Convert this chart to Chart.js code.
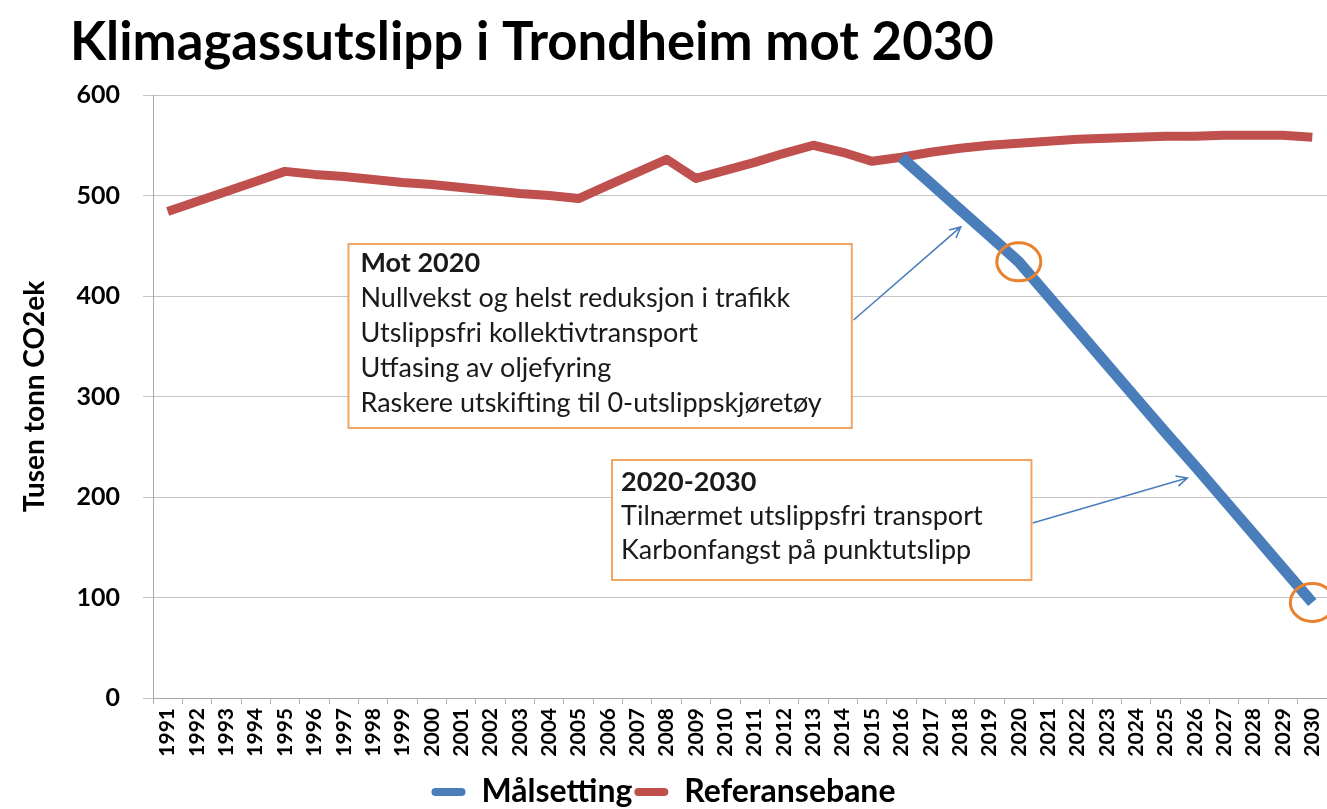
<!DOCTYPE html>
<html>
<head>
<meta charset="utf-8">
<script src="https://cdn.jsdelivr.net/npm/chart.js@4/dist/chart.umd.min.js"></script>
<style>
html, body { margin:0; padding:0; background:#fff; overflow:hidden; }
</style>
</head>
<body>
<canvas id="chart" width="1327" height="818"></canvas>
<script>
// categories
var years = ['1991','1992','1993','1994','1995','1996','1997','1998','1999','2000',
             '2001','2002','2003','2004','2005','2006','2007','2008','2009','2010',
             '2011','2012','2013','2014','2015','2016','2017','2018','2019','2020',
             '2021','2022','2023','2024','2025','2026','2027','2028','2029','2030'];

// Referansebane (tusen tonn CO2ek)
var referansebane = [484,494,504,514,524,521,519,516,513,511,
                     508,505,502,500,497,510,523,536,517,525,
                     533,542,550,543,534,538,543,547,550,552,
                     554,556,557,558,559,559,560,560,560,558];

// Målsetting (starter i 2016)
var malsetting = [null,null,null,null,null,null,null,null,null,null,
                  null,null,null,null,null,null,null,null,null,null,
                  null,null,null,null,null,538,512,486,460,434,
                  400,366,332,298,264,231,197,163,129,95];

var yTicks = [0,100,200,300,400,500,600];
var markedYears = ['2020','2030'];

// tekstbokser: [år venstre, år høyre, verdi topp, verdi bunn]
var box1Lines = ['Mot 2020','Nullvekst og helst reduksjon i trafikk','Utslippsfri kollektivtransport','Utfasing av oljefyring','Raskere utskifting til 0-utslippskjøretøy'];
var box1Pos = [1997.16, 2014.31, 451.7, 268.7];
var box2Lines = ['2020-2030','Tilnærmet utslippsfri transport','Karbonfangst på punktutslipp'];
var box2Pos = [2006.14, 2020.43, 236.8, 117.4];
// piler: [år fra, verdi fra, år til, verdi til]
var arrow1 = [2014.37, 376.1, 2018.02, 468.7];
var arrow2 = [2020.47, 174.1, 2025.74, 218.9];

var blue = '#4A7EBB';
var red = '#C0504D';
var orange = '#E8822F';
var FONT = 'Lato, "Open Sans", sans-serif';

function xAt(chart, year){
	var x = chart.scales.x;
	var step = x.getPixelForValue(1) - x.getPixelForValue(0);
	return x.getPixelForValue(0) + (year - 1991) * step;
}
function yAt(chart, v){
	return chart.scales.y.getPixelForValue(v);
}

function drawBox(chart, pos, lines, firstOff, lineGap, padX){
	var ctx = chart.ctx;
	var l = xAt(chart, pos[0]), r = xAt(chart, pos[1]);
	var t = yAt(chart, pos[2]), b = yAt(chart, pos[3]);
	ctx.save();
	ctx.fillStyle = '#fff';
	ctx.fillRect(l, t, r - l, b - t);
	ctx.strokeStyle = '#F2A463';
	ctx.lineWidth = 2;
	ctx.strokeRect(l, t, r - l, b - t);
	ctx.fillStyle = '#1a1a1a';
	ctx.textBaseline = 'middle';
	ctx.textAlign = 'left';
	for(var i in lines){
		ctx.font = (i == 0 ? 'bold ' : '') + '27px ' + FONT;
		ctx.fillText(lines[i], l + padX, t + firstOff + i * lineGap);
	}
	ctx.restore();
}

function drawArrow(chart, a){
	var ctx = chart.ctx;
	var x0 = xAt(chart, a[0]), y0 = yAt(chart, a[1]);
	var x1 = xAt(chart, a[2]), y1 = yAt(chart, a[3]);
	var ang = Math.atan2(y1 - y0, x1 - x0);
	ctx.save();
	ctx.strokeStyle = blue;
	ctx.lineWidth = 1.6;
	ctx.beginPath();
	ctx.moveTo(x0, y0);
	ctx.lineTo(x1, y1);
	ctx.moveTo(x1 - 12*Math.cos(ang - 0.45), y1 - 12*Math.sin(ang - 0.45));
	ctx.lineTo(x1, y1);
	ctx.lineTo(x1 - 12*Math.cos(ang + 0.45), y1 - 12*Math.sin(ang + 0.45));
	ctx.stroke();
	ctx.restore();
}

// oransje ringer rundt målpunktene
function drawRings(chart){
	var ctx = chart.ctx;
	var pts = chart.getDatasetMeta(0).data;
	ctx.save();
	ctx.strokeStyle = orange;
	ctx.lineWidth = 3;
	for(var i in years){
		if(markedYears.indexOf(years[i]) < 0) continue;
		ctx.beginPath();
		ctx.ellipse(pts[i].x, pts[i].y, 22, 19, 0, 0, Math.PI*2);
		ctx.stroke();
	}
	ctx.restore();
}

var extras = {
	id: 'extras',
	afterDatasetsDraw: function(chart){
		drawRings(chart);
		drawBox(chart, box1Pos, box1Lines, 19, 35, 12);
		drawBox(chart, box2Pos, box2Lines, 22, 34, 9);
		drawArrow(chart, arrow1);
		drawArrow(chart, arrow2);
	},
	afterDraw: function(chart){
		var ctx = chart.ctx;
		ctx.save();
		ctx.fillStyle = '#000';
		ctx.font = 'bold 52.7px ' + FONT;
		ctx.textBaseline = 'alphabetic';
		ctx.textAlign = 'left';
		ctx.fillText('Klimagassutslipp i Trondheim mot 2030', 70, 60);
		ctx.restore();
	}
};

var ctx = document.getElementById('chart').getContext('2d');
var chart = new Chart(ctx, {
	type: 'line',
	data: {
		labels: years,
		datasets: [{
			label: 'Målsetting',
			data: malsetting,
			borderColor: blue,
			backgroundColor: blue,
			borderWidth: 11,
			tension: 0,
			pointRadius: 0
		},{
			label: 'Referansebane',
			data: referansebane,
			borderColor: red,
			backgroundColor: red,
			borderWidth: 9,
			borderJoinStyle: 'round',
			tension: 0,
			pointRadius: 0
		}]
	},
	options: {
		responsive: false,
		animation: false,
		layout: { padding: { top: 95, left: 0, right: 0, bottom: 0 } },
		plugins: {
			legend: {
				position: 'bottom',
				labels: {
					boxWidth: 34,
					boxHeight: 8,
					padding: 2,
					color: '#000',
					useBorderRadius: true,
					borderRadius: 4,
					font: { family: FONT, size: 32, weight: 'bold', lineHeight: 1 },
					generateLabels: function(chart){
						var items = Chart.defaults.plugins.legend.labels.generateLabels(chart);
						items.forEach(function(it){ it.lineWidth = 0; });
						return items;
					}
				}
			},
			tooltip: { enabled: false },
			title: { display: false }
		},
		scales: {
			x: {
				offset: true,
				afterFit: function(s){ s.paddingLeft = 0; s.paddingRight = 0; s.height = 76; },
				grid: { display: true, drawOnChartArea: false, drawTicks: true, tickLength: 6, offset: true, color: '#B0B0B0' },
				border: { display: true, color: '#A8A8A8' },
				ticks: { autoSkip: false, maxRotation: 90, minRotation: 90, padding: 4, color: '#000',
					font: { family: FONT, size: 21, weight: 'bold' } }
			},
			y: {
				min: 0,
				max: 600,
				afterFit: function(s){ s.width = 153; },
				afterBuildTicks: function(s){ s.ticks = yTicks.map(function(v){ return { value: v }; }); },
				grid: { color: '#C4C4C4', tickLength: 10 },
				border: { display: true, color: '#A8A8A8' },
				ticks: { padding: 23, color: '#000', font: { family: FONT, size: 25, weight: 'bold' } },
				title: { display: true, text: 'Tusen tonn CO2ek', color: '#000', padding: { top: 18, bottom: 0 },
					font: { family: FONT, size: 28, weight: 'bold' } }
			}
		}
	},
	plugins: [extras]
});
</script>
</body>
</html>
